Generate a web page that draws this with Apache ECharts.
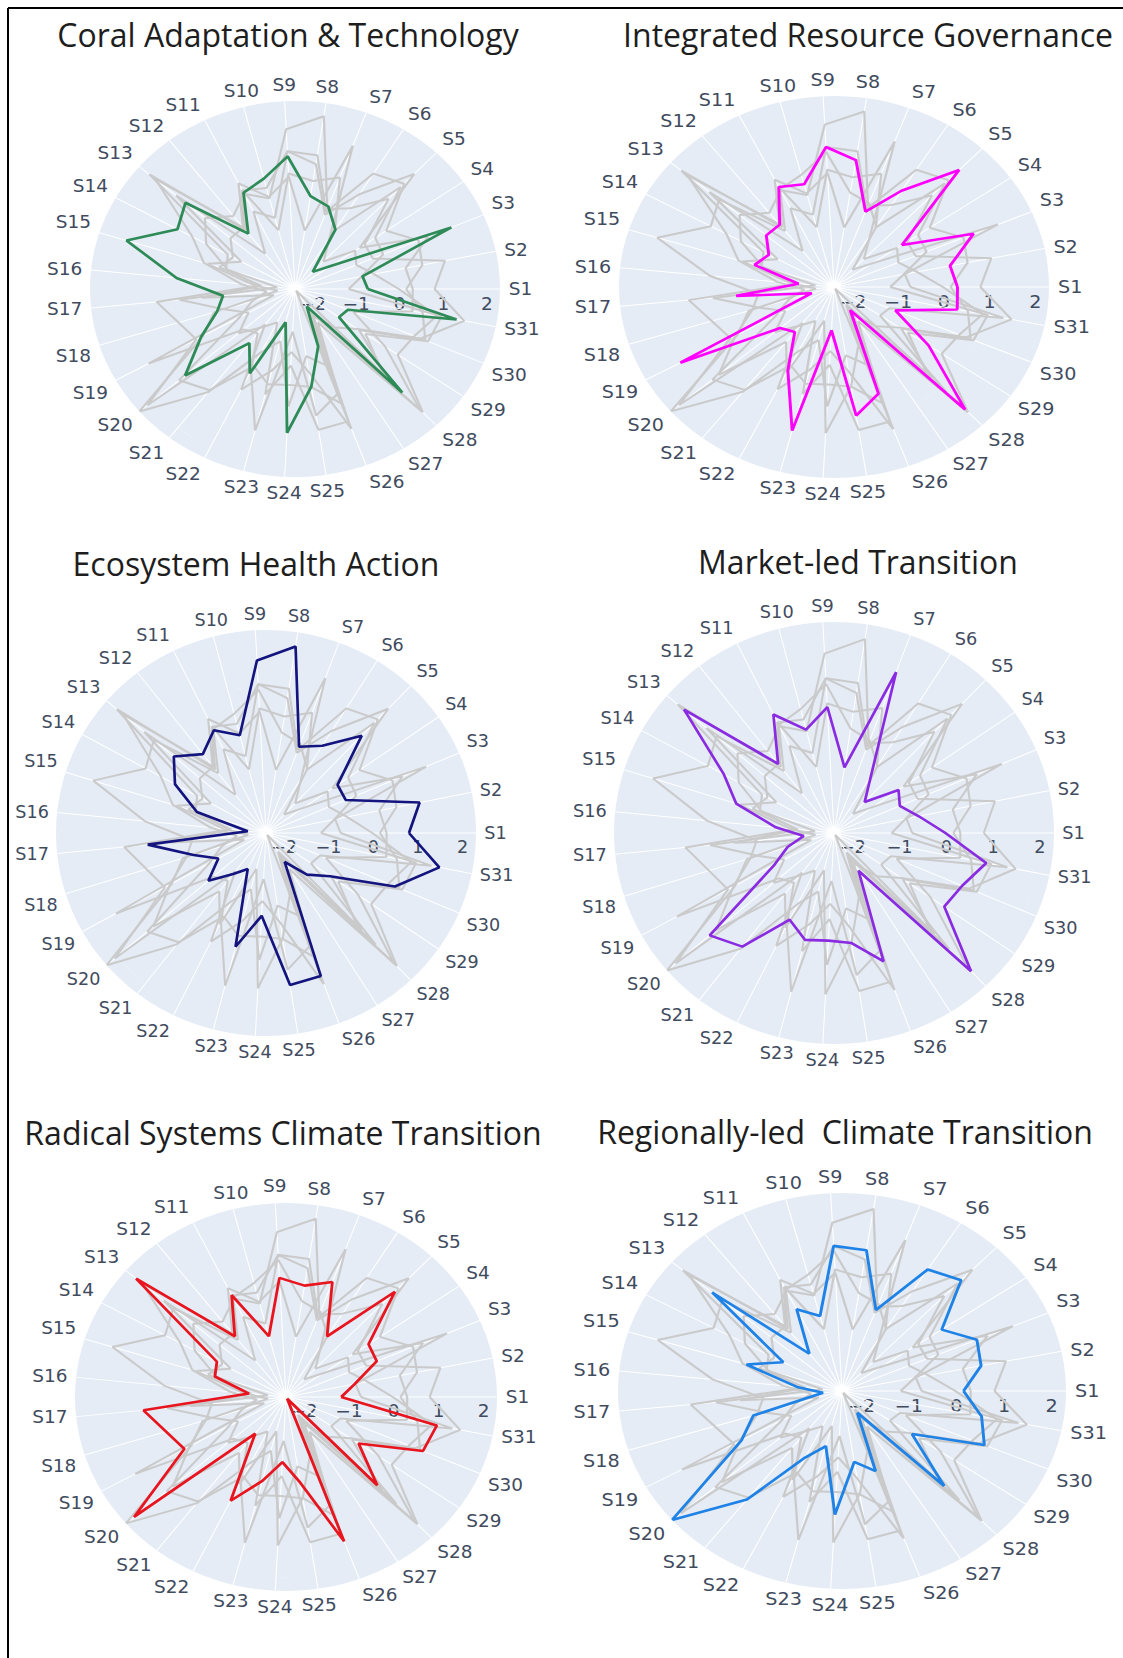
<!DOCTYPE html>
<html>
<head>
<meta charset="utf-8">
<title>Scenario profiles</title>
<script src="https://cdn.jsdelivr.net/npm/echarts@6/dist/echarts.min.js"></script>
<style>
  html, body { margin: 0; padding: 0; background: #ffffff; overflow: hidden; }
  #page { position: relative; width: 1123px; height: 1658px; overflow: hidden; background: #ffffff; }
  #frame { position: absolute; left: 0; top: 0; width: 1123px; height: 1658px; }
  .panel { position: absolute; width: 540px; height: 540px; transform-origin: 50% 50%; }
</style>
</head>
<body>
<div id="page">
  <div id="frame"></div>
</div>
<script>
// Statements S1..S31 around each polar plot
const categories = ['S1','S2','S3','S4','S5','S6','S7','S8','S9','S10','S11','S12','S13','S14','S15','S16',
  'S17','S18','S19','S20','S21','S22','S23','S24','S25','S26','S27','S28','S29','S30','S31'];

// Scenario scores per statement
const coralAdaptation = [-0.73, -0.82, 1.50, -1.38, -1.81, -0.65, -0.20, -0.05, 0.92, 0.45, 0.28, -0.65, 0.91, 0.68, 1.65, 0.33,
  -0.74, -0.53, 0.06, 0.92, -0.69, -0.05, -1.54, 1.20, 0.07, -0.87, -1.89, 1.17, -1.17, -1.08, 1.38];
const integratedGovernance = [0.30, 0.19, 0.92, -0.59, 1.57, 0.39, -0.42, 0.76, 1.05, 0.21, 0.34, -0.46, -0.45, -0.77, -0.58, -1.62,
  -0.25, -1.89, 1.44, -0.85, -1.00, -0.11, 1.25, -1.33, 0.80, 0.40, -1.73, 1.76, 0.12, -0.94, 0.35];
const ecosystemHealth = [0.80, 1.11, -0.46, -0.45, 0.71, -0.02, -0.27, 1.97, 1.60, -0.06, 0.25, -0.09, 0.32, -0.07, -0.78, -1.99,
  0.26, -0.70, -1.18, -0.70, -1.20, -1.47, 0.32, -0.48, 1.16, 1.13, -1.61, -1.07, -0.65, 0.74, 1.56];
const marketLed = [-0.02, -0.55, -0.87, -0.72, -1.45, -0.91, 1.42, -0.92, 0.41, -0.02, 0.54, -0.45, 1.82, 0.29, -0.21, -1.15,
  -1.75, -1.36, -0.95, 1.10, 0.80, -0.25, 0.06, 0.00, 0.08, 0.65, -1.41, 1.85, 0.47, 0.58, 0.92];
const radicalSystems = [-1.17, -0.84, -0.20, -0.16, 1.12, -0.67, 0.57, 0.33, 0.49, -0.88, 0.35, -0.54, 2.00, -0.64, -0.74, -1.57,
  0.79, 0.40, 0.19, 2.06, -1.28, 0.40, -0.30, -0.82, -0.30, 1.33, -2.35, 0.55, -0.43, 0.92, 1.03];
const regionallyLed = [0.15, 0.58, 0.68, 0.15, 1.23, 1.00, -0.35, 0.98, 1.05, -0.56, -0.24, -1.28, 1.19, -0.99, -0.30, -1.45,
  -2.00, -0.45, 0.01, 2.30, 0.86, -0.64, -1.05, 0.54, -0.70, -0.37, -1.79, 0.71, -0.61, 0.85, 0.59];

const scenarioNames = ['Coral Adaptation & Technology', 'Integrated Resource Governance', 'Ecosystem Health Action',
  'Market-led Transition', 'Radical Systems Climate Transition', 'Regionally-led  Climate Transition'];
const scenarioColors = ['#2e8b57', '#ff00ff', '#14147f', '#8a2be2', '#e8141e', '#1f82e6'];
const scenarioValues = [coralAdaptation, integratedGovernance, ecosystemHealth, marketLed, radicalSystems, regionallyLed];

// Radial axis
const radialMin = -2.4;
const radialMax = 2.3;
const radialTicks = [-2, -1, 0, 1, 2];

// Panel placement: plot centre, horizontal / vertical radius, title anchor
const panels = [
  { center: [295, 289], rx: 205, ry: 188, title: [288, 34] },
  { center: [834, 287], rx: 215, ry: 191, title: [868, 34] },
  { center: [266, 833], rx: 210, ry: 203, title: [256, 563] },
  { center: [834, 833], rx: 220, ry: 211, title: [858, 561] },
  { center: [286, 1397], rx: 211, ry: 194, title: [283, 1132] },
  { center: [842, 1391], rx: 224, ry: 198, title: [845, 1131] }
];
const panelSize = 540;

const labelColor = '#414b5e';
const gridBg = '#e5ecf6';
const labelFont = '"DejaVu Sans", Verdana, sans-serif';
const titleFont = '"Open Sans", "Noto Sans", sans-serif';

// Angle position k (0..30) is statement S(k+1); position 31 closes the ring back at S1
function closedRing(values) {
  const pts = values.map((v, i) => [v, i]);
  pts.push([values[0], categories.length]);
  return pts;
}

// Frame lines and panel titles
const frameChart = echarts.init(document.getElementById('frame'), null, { renderer: 'svg' });
const frameGraphic = [
  { type: 'line', shape: { x1: 8, y1: 8, x2: 1123, y2: 8 }, style: { stroke: '#000', lineWidth: 2 } },
  { type: 'line', shape: { x1: 8, y1: 8, x2: 8, y2: 1658 }, style: { stroke: '#000', lineWidth: 2 } }
];
panels.forEach((p, i) => {
  frameGraphic.push({
    type: 'text', x: p.title[0], y: p.title[1],
    style: {
      text: scenarioNames[i], fill: '#1e1e1e', font: '32px ' + titleFont,
      textAlign: 'center', textVerticalAlign: 'middle'
    }
  });
});
frameChart.setOption({ animation: false, graphic: frameGraphic });

// One polar plot per scenario
const page = document.getElementById('page');
panels.forEach((p, pi) => {
  const div = document.createElement('div');
  div.className = 'panel';
  div.style.left = (p.center[0] - panelSize / 2) + 'px';
  div.style.top = (p.center[1] - panelSize / 2) + 'px';
  div.style.transform = 'scaleX(' + (p.rx / p.ry).toFixed(4) + ')';
  page.appendChild(div);

  const series = [];
  scenarioValues.forEach((vals, si) => {
    if (si === pi) return;
    series.push({
      type: 'line', coordinateSystem: 'polar', name: scenarioNames[si],
      data: closedRing(vals), symbol: 'none', silent: true, clip: false, z: 2,
      lineStyle: { color: '#cacaca', width: 2 }
    });
  });
  series.push({
    type: 'line', coordinateSystem: 'polar', name: scenarioNames[pi],
    data: closedRing(scenarioValues[pi]), symbol: 'none', silent: true, clip: false, z: 3,
    lineStyle: { color: scenarioColors[pi], width: 2.6 }
  });

  const chart = echarts.init(div, null, { renderer: 'svg' });
  chart.setOption({
    animation: false,
    polar: { center: ['50%', '50%'], radius: p.ry },
    angleAxis: {
      type: 'value', min: 0, max: categories.length, interval: 1,
      startAngle: 0, clockwise: false, z: 1,
      axisLine: { show: false },
      axisTick: { show: false },
      axisLabel: {
        margin: 8, color: labelColor, fontSize: 17, fontFamily: labelFont,
        formatter: v => (v < categories.length ? categories[v] : '')
      },
      splitLine: { show: true, lineStyle: { color: '#ffffff', width: 1 } }
    },
    radiusAxis: {
      type: 'value', min: radialMin, max: radialMax, splitNumber: 5, z: 0,
      axisLine: { show: false },
      axisTick: { show: false },
      axisLabel: {
        color: labelColor, fontSize: 17, fontFamily: labelFont, margin: -6, verticalAlign: 'top',
        formatter: v => {
          const t = radialTicks.find(k => Math.abs(k - v) < 1e-6);
          if (t === undefined) return '';
          return t < 0 ? '\u2212' + Math.abs(t) : String(t);
        }
      },
      splitLine: { show: true, lineStyle: { color: '#ffffff', width: 1.2 } },
      splitArea: { show: true, areaStyle: { color: [gridBg] } }
    },
    series: series
  });
});
</script>
</body>
</html>
